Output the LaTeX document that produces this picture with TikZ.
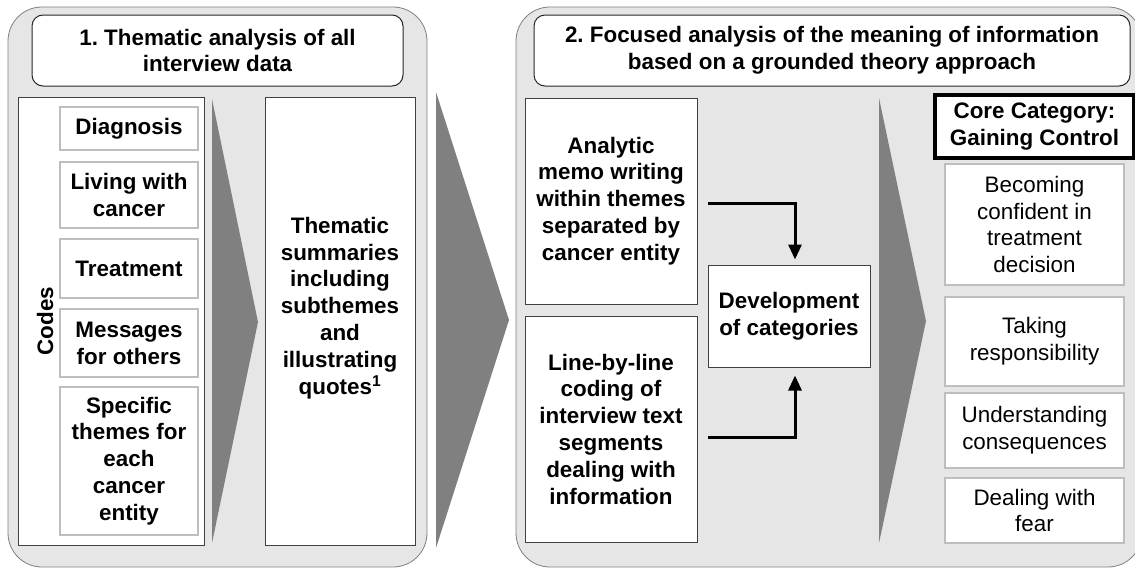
\documentclass[tikz,border=0pt]{standalone}
\usepackage{fontspec}
\setmainfont{Liberation Sans}
\usetikzlibrary{arrows.meta,positioning}
\frenchspacing

\definecolor{panelgray}{HTML}{E6E6E6}
\definecolor{edgegray}{HTML}{7F7F7F}
\definecolor{chevgray}{HTML}{808080}
\definecolor{itemgray}{HTML}{BEBEBE}

\newcommand{\bodysize}{\fontsize{22.4}{26.8}\selectfont}

\tikzset{
  txt/.style={align=center, inner sep=0pt, font=\bfseries\bodysize},
  panel/.style={draw=edgegray, fill=panelgray, line width=0.8pt, rounded corners=34pt},
  headbox/.style={txt, draw=black!85, fill=white, line width=1pt, rounded corners=11pt},
  mainbox/.style={txt, draw=black!75, fill=white, line width=1pt},
  itembox/.style={txt, draw=itemgray, fill=white, line width=1.2pt},
  catbox/.style={itembox, line width=1.5pt, font=\bodysize},
  corebox/.style={txt, draw=black, fill=white, line width=3.5pt},
  flow/.style={line width=3pt, -{Triangle[length=15pt,width=13pt]}},
}

\begin{document}
\begin{tikzpicture}[x=1pt, y=-1pt]
        \useasboundingbox (0,0) rectangle (1135,568);

        % Panels
        \draw[panel] (8,7) rectangle (427,567);
        \draw[panel] (516,7) rectangle (1142,567);

        % Big arrow between the phases
        \fill[chevgray] (436,92) -- (509,320) -- (436,548) -- cycle;

        % Phase 1
        \node[headbox, minimum width=371pt, minimum height=71pt] (head1) at (217.5,50.5)
            {1. Thematic analysis of all\\interview data};

        \node[mainbox, minimum width=186pt, minimum height=448pt] (codebox) at (111,321) {};
        \node[txt, rotate=90] (codes) at (45,321) {Codes};
        \node[itembox, minimum width=138pt, minimum height=43pt] (diag) at (129,128.5) {Diagnosis};
        \node[itembox, minimum width=138pt, minimum height=66pt] (living) at (129,195) {Living with\\cancer};
        \node[itembox, minimum width=138pt, minimum height=59pt] (treat) at (129,268.5) {Treatment};
        \node[itembox, minimum width=138pt, minimum height=68pt] (msg) at (129,343) {Messages\\for others};
        \node[itembox, minimum width=138pt, minimum height=148pt] (spec) at (129,461)
            {Specific\\themes for\\each\\cancer\\entity};

        \fill[chevgray] (212,99) -- (258,322) -- (212,543) -- cycle;

        \node[mainbox, minimum width=150pt, minimum height=448pt] (summ) at (340,321) {};
        \node[txt] (summtext) at (340,308)
            {Thematic\\summaries\\including\\subthemes\\and\\illustrating\\quotes\textsuperscript{1}};

        % Phase 2
        \node[headbox, minimum width=596pt, minimum height=71pt] (head2) at (832,50.5)
            {2. Focused analysis of the meaning of information\\based on a grounded theory approach};

        \node[mainbox, minimum width=172pt, minimum height=206pt] (memo) at (611,201)
            {Analytic\\memo writing\\within themes\\separated by\\cancer entity};
        \node[mainbox, minimum width=172pt, minimum height=226pt] (lines) at (611,429)
            {Line-by-line\\coding of\\interview text\\segments\\dealing with\\information};
        \node[mainbox, minimum width=162pt, minimum height=102pt] (devel) at (789,316)
            {Development\\of categories};

        \fill[chevgray] (879,98) -- (926,321) -- (879,543) -- cycle;

        % Categories
        \node[corebox, minimum width=199pt, minimum height=63pt] (core) at (1034.5,126.5)
            {Core Category:\\Gaining Control};
        \node[catbox, minimum width=179pt, minimum height=121pt] (confident) at (1034.5,224.5)
            {Becoming\\confident in\\treatment\\decision};
        \node[catbox, minimum width=179pt, minimum height=89pt] (resp) at (1034.5,341.5)
            {Taking\\responsibility};
        \node[catbox, minimum width=179pt, minimum height=75pt] (conseq) at (1034.5,430.5)
            {Understanding\\consequences};
        \node[catbox, minimum width=179pt, minimum height=65pt] (fear) at (1034.5,510.5)
            {Dealing with\\fear};

        % Connections
        \draw[flow, shorten >=5pt] ([xshift=10pt,yshift=-2pt]memo.east) -| ([xshift=6pt]devel.north);
        \draw[flow, shorten >=8pt] ([xshift=10pt,yshift=-8pt]lines.east) -| ([xshift=6pt]devel.south);
    \end{tikzpicture}
\end{document}
